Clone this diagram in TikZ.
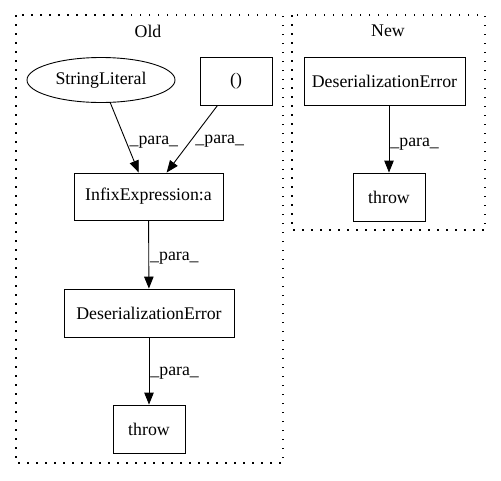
\documentclass[tikz,border=0pt]{standalone}
\usepackage{fontspec}
\setmainfont{Liberation Serif}
\usetikzlibrary{shapes.geometric,arrows.meta,positioning}

\tikzset{
  box/.style={draw, rectangle, minimum height=48pt, inner sep=0pt},
  lit/.style={draw, ellipse, minimum width=148pt, minimum height=45pt, inner sep=0pt},
  lbl/.style={inner sep=1pt, anchor=west},
  cluster/.style={draw, dash pattern=on 1.5pt off 7.5pt, line width=1.2pt},
}

\begin{document}
\begin{tikzpicture}[x=1pt, y=-1pt, line width=0.9pt, font=\fontsize{17.8}{20}\selectfont]
   \useasboundingbox (0,0) rectangle (501,480);
   % clusters
   \draw[cluster] (16,15) rectangle (283,463);
   \draw[cluster] (292,15) rectangle (485,230);
   \node (old) at (148,31) {Old};
   \node (new) at (388,31) {New};
   % old
   \node[lit] (strlit) at (101,80) {StringLiteral};
   \node[box, minimum width=72pt] (paren) at (236,81) {()};
   \node[box, minimum width=149pt, minimum height=47pt] (infix) at (148.5,196.5) {InfixExpression:a};
   \node[box, minimum width=170pt] (deserold) at (149,313) {DeserializationError};
   \node[box, minimum width=72pt] (throwold) at (149,429) {throw};
   % new
   \node[box, minimum width=161pt] (desernew) at (384.5,81) {DeserializationError};
   \node[box, minimum width=72pt] (thrownew) at (389,197) {throw};
   \begin{scope}[->, >={Triangle[length=12pt,width=9.5pt]}]
    \draw (strlit) -- node[lbl, pos=0.56, xshift=2pt] (p1) {\_para\_} (infix);
    \draw (paren) -- node[lbl, pos=0.54, xshift=4pt] (p2) {\_para\_} (infix);
    \draw (infix) -- node[lbl, pos=0.55] (p3) {\_para\_} (deserold);
    \draw (deserold) -- node[lbl, pos=0.53] (p4) {\_para\_} (throwold);
    \draw (thrownew |- desernew.south) -- node[lbl, pos=0.57] (p5) {\_para\_} (thrownew);
   \end{scope}
\end{tikzpicture}
\end{document}
